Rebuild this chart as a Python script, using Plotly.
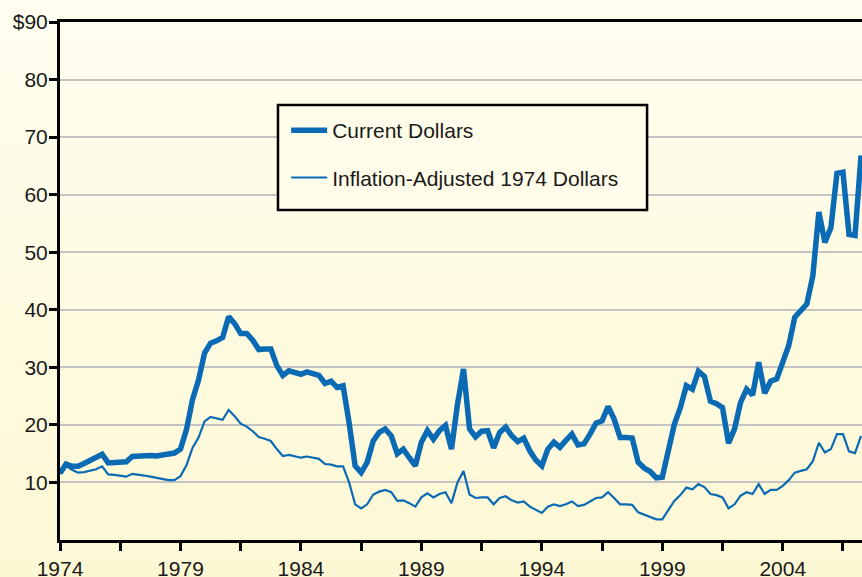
"""
Oil price chart: current vs inflation-adjusted dollars, quarterly 1974-2007
"""

import plotly.graph_objects as go

# quarterly observations starting 1974 Q1
quarters = [1974 + q / 4 for q in range(134)]

current_dollars = [
    11.6, 13.2, 12.8, 12.8, 13.3, 13.8, 14.2, 14.9, 13.4, 13.5,
    13.5, 13.6, 14.5, 14.6, 14.6, 14.7, 14.6, 14.7, 14.8, 15.1,
    15.8, 19.2, 24.4, 27.8, 32.5, 34.2, 34.6, 35.2, 38.8, 37.6,
    35.9, 35.9, 34.7, 33.1, 33.2, 33.2, 30.3, 28.6, 29.4, 29.1,
    28.8, 29.2, 28.9, 28.6, 27.2, 27.6, 26.5, 26.8, 20.4, 12.9,
    11.7, 13.5, 17.2, 18.7, 19.3, 18.1, 15.0, 15.8, 14.3, 12.9,
    17.0, 19.0, 17.5, 19.0, 19.9, 15.8, 23.6, 29.7, 19.3, 17.9,
    18.9, 19.0, 16.0, 18.7, 19.6, 18.1, 17.1, 17.7, 15.5, 13.9,
    12.9, 15.8, 17.0, 16.1, 17.3, 18.4, 16.5, 16.7, 18.4, 20.3,
    20.7, 23.2, 21.0, 17.8, 17.8, 17.7, 13.5, 12.5, 11.9, 10.8,
    10.9, 15.5, 20.1, 23.0, 26.8, 26.2, 29.3, 28.4, 24.1, 23.7,
    23.0, 16.8, 19.3, 23.9, 26.2, 25.2, 30.9, 25.5, 27.6, 28.0,
    30.9, 33.8, 38.7, 39.9, 41.0, 45.9, 57.0, 51.7, 54.3, 63.7,
    63.9, 53.1, 52.9, 66.8,
]

real_1974_dollars = [
    11.5, 12.9, 12.2, 11.7, 11.8, 12.1, 12.3, 12.8, 11.4, 11.3,
    11.2, 11.0, 11.5, 11.4, 11.2, 11.0, 10.8, 10.6, 10.4, 10.4,
    11.1, 13.0, 16.0, 17.8, 20.6, 21.4, 21.1, 20.9, 22.6, 21.5,
    20.2, 19.7, 18.9, 17.9, 17.6, 17.2, 15.8, 14.6, 14.8, 14.6,
    14.3, 14.5, 14.3, 14.1, 13.2, 13.1, 12.8, 12.8, 10.0, 6.2,
    5.5, 6.2, 7.9, 8.4, 8.7, 8.3, 6.8, 6.9, 6.4, 5.8,
    7.4, 8.1, 7.4, 8.0, 8.3, 6.4, 10.0, 12.0, 7.9, 7.3,
    7.4, 7.4, 6.2, 7.3, 7.6, 6.9, 6.5, 6.7, 5.8, 5.2,
    4.7, 5.8, 6.2, 5.9, 6.2, 6.7, 5.9, 6.1, 6.7, 7.3,
    7.4, 8.3, 7.3, 6.2, 6.2, 6.1, 4.8, 4.4, 4.1, 3.6,
    3.6, 5.3, 6.8, 7.8, 9.1, 8.8, 9.7, 9.2, 8.0, 7.8,
    7.4, 5.5, 6.2, 7.7, 8.3, 8.0, 9.7, 8.0, 8.7, 8.7,
    9.4, 10.4, 11.7, 12.0, 12.3, 13.7, 16.9, 15.2, 15.8, 18.4,
    18.4, 15.4, 15.1, 18.1,
]

y_ticks = [10, 20, 30, 40, 50, 60, 70, 80, 90]
y_labels = ["10", "20", "30", "40", "50", "60", "70", "80", "$90"]
x_ticks = [1974 + 2.5 * k for k in range(14)]
x_labels = [str(int(v)) if k % 2 == 0 else "" for k, v in enumerate(x_ticks)]

BLUE = "#0a6ab4"
FONT = "Liberation Sans, Arial, sans-serif"

fig = go.Figure()

fig.add_trace(go.Scatter(
    x=quarters, y=current_dollars, mode="lines",
    name="Current Dollars", legendgroup="a",
    line=dict(color=BLUE, width=5.5),
))
fig.add_trace(go.Scatter(
    x=quarters, y=real_1974_dollars, mode="lines",
    name="Inflation-Adjusted 1974 Dollars", legendgroup="b",
    line=dict(color=BLUE, width=2.2),
))

# soft cream gradient behind everything
shapes = []
n_bands = 40
top_px, bottom_px = 0, 577
for i in range(n_bands):
    t = i / (n_bands - 1)
    r = round(255 + (253 - 255) * t)
    g = round(254 + (248 - 254) * t)
    b = round(240 + (212 - 240) * t)
    p0 = top_px + (bottom_px - top_px) * i / n_bands
    p1 = top_px + (bottom_px - top_px) * (i + 1) / n_bands + 1
    shapes.append(dict(
        type="rect", xref="paper", yref="paper", layer="below",
        x0=-0.1, x1=1.1,
        y0=(540 - p1) / 518, y1=(540 - p0) / 518,
        fillcolor=f"rgb({r},{g},{b})", line=dict(width=0),
    ))

# legend frame
shapes.append(dict(
    type="rect", xref="paper", yref="paper", layer="above",
    x0=0.2718, x1=0.732, y0=0.637, y1=0.8398,
    fillcolor="#fffde9", line=dict(color="black", width=2.5),
))

fig.update_layout(
    width=862,
    height=577,
    margin=dict(l=60, r=0, t=22, b=37),
    paper_bgcolor="#fffcea",
    plot_bgcolor="rgba(0,0,0,0)",
    font=dict(family=FONT, size=21, color="#1a1a1a"),
    shapes=shapes,
    showlegend=True,
    legend=dict(
        x=0.282, y=0.830, xanchor="left", yanchor="top",
        bgcolor="rgba(0,0,0,0)", borderwidth=0,
        traceorder="grouped", tracegroupgap=17,
        itemwidth=36, font=dict(size=21),
    ),
    xaxis=dict(
        range=[1974, 2007.29], automargin=False,
        tickvals=x_ticks, ticktext=x_labels,
        ticks="outside", ticklen=8, tickwidth=2.5, tickcolor="black",
        showline=True, linecolor="black", linewidth=3, mirror=True,
        showgrid=False, zeroline=False,
    ),
    yaxis=dict(
        range=[0, 90], automargin=False,
        tickvals=y_ticks, ticktext=y_labels,
        ticks="outside", ticklen=8, tickwidth=2.5, tickcolor="black",
        ticklabelstandoff=-3,
        showline=True, linecolor="black", linewidth=3,
        showgrid=True, gridcolor="#c4c4c4", gridwidth=2,
        zeroline=False,
    ),
)

# the page body has a default 8px margin; drop it so the figure fills the window
fig.write_html(
    "out.html",
    config={"displayModeBar": False},
    post_script="document.body.style.margin='0'; document.body.style.overflow='hidden';",
)
